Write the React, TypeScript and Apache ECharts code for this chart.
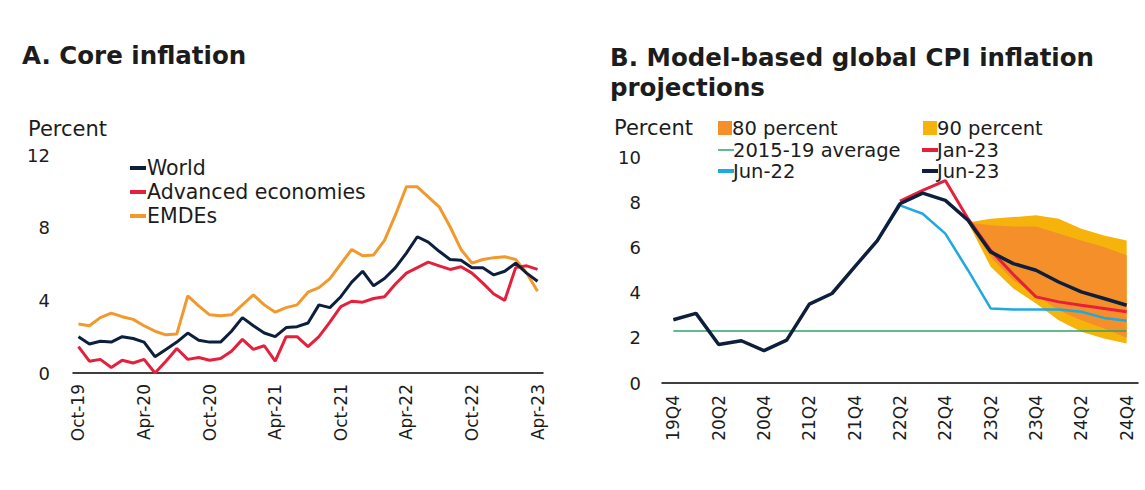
import React, { useEffect, useRef } from "react";
import * as echarts from "echarts";

// ---------- Panel A: Core inflation (monthly, Oct-19 .. Apr-23) ----------
const months = [
  "Oct-19", "Nov-19", "Dec-19", "Jan-20", "Feb-20", "Mar-20", "Apr-20", "May-20", "Jun-20", "Jul-20",
  "Aug-20", "Sep-20", "Oct-20", "Nov-20", "Dec-20", "Jan-21", "Feb-21", "Mar-21", "Apr-21", "May-21",
  "Jun-21", "Jul-21", "Aug-21", "Sep-21", "Oct-21", "Nov-21", "Dec-21", "Jan-22", "Feb-22", "Mar-22",
  "Apr-22", "May-22", "Jun-22", "Jul-22", "Aug-22", "Sep-22", "Oct-22", "Nov-22", "Dec-22", "Jan-23",
  "Feb-23", "Mar-23", "Apr-23",
];
const worldCore = [
  2.0, 1.6, 1.75, 1.7, 2.0, 1.9, 1.7, 0.9, 1.3, 1.7,
  2.2, 1.8, 1.7, 1.7, 2.3, 3.05, 2.6, 2.2, 2.0, 2.5,
  2.55, 2.75, 3.75, 3.6, 4.2, 5.0, 5.6, 4.8, 5.2, 5.8,
  6.6, 7.5, 7.2, 6.7, 6.25, 6.2, 5.8, 5.8, 5.4, 5.6,
  6.05, 5.5, 5.05,
];
const advancedCore = [
  1.45, 0.65, 0.75, 0.3, 0.7, 0.55, 0.75, 0.0, 0.65, 1.35,
  0.75, 0.85, 0.7, 0.8, 1.2, 1.85, 1.3, 1.5, 0.65, 2.0,
  2.0, 1.45, 2.0, 2.8, 3.65, 3.95, 3.9, 4.1, 4.2, 4.9,
  5.5, 5.8, 6.1, 5.9, 5.7, 5.85, 5.5, 4.95, 4.35, 4.0,
  5.8, 5.9, 5.7,
];
const emdeCore = [
  2.7, 2.6, 3.05, 3.3, 3.1, 2.95, 2.6, 2.3, 2.1, 2.15,
  4.25, 3.7, 3.2, 3.15, 3.2, 3.75, 4.3, 3.75, 3.35, 3.6,
  3.75, 4.45, 4.7, 5.2, 6.0, 6.8, 6.45, 6.5, 7.3, 8.7,
  10.25, 10.25, 9.7, 9.15, 8.05, 6.8, 6.05, 6.25, 6.35, 6.4,
  6.25, 5.5, 4.5,
];
const leftTicks = { min: 0, max: 12, interval: 4 };

// ---------- Panel B: Model-based global CPI projections (quarterly) ----------
const quarters = [
  "19Q4", "20Q1", "20Q2", "20Q3", "20Q4", "21Q1", "21Q2", "21Q3", "21Q4", "22Q1",
  "22Q2", "22Q3", "22Q4", "23Q1", "23Q2", "23Q3", "23Q4", "24Q1", "24Q2", "24Q3", "24Q4",
];
const jun23 = [2.8, 3.08, 1.7, 1.87, 1.43, 1.9, 3.49, 3.96, 5.14, 6.3, 7.93, 8.4, 8.08, 7.2, 5.8, 5.28, 4.99, 4.47, 4.03, 3.74, 3.44];
const jan23 = [null, null, null, null, null, null, null, null, null, null, 8.05, 8.52, 8.96, 7.27, 5.87, 4.8, 3.81, 3.59, 3.44, 3.3, 3.15];
const jun22 = [null, null, null, null, null, null, null, null, null, 6.3, 7.86, 7.49, 6.61, 4.99, 3.3, 3.25, 3.25, 3.25, 3.15, 2.88, 2.75];
const avg1519 = [2.3, 2.3, 2.3, 2.3, 2.3, 2.3, 2.3, 2.3, 2.3, 2.3, 2.3, 2.3, 2.3, 2.3, 2.3, 2.3, 2.3, 2.3, 2.3, 2.3, 2.3];
const lower90 = [null, null, null, null, null, null, null, null, null, null, null, null, null, 7.1, 5.14, 4.18, 3.52, 2.78, 2.27, 1.97, 1.75];
const upper90 = [null, null, null, null, null, null, null, null, null, null, null, null, null, 7.1, 7.27, 7.34, 7.42, 7.27, 6.83, 6.53, 6.31];
const lower80 = [null, null, null, null, null, null, null, null, null, null, null, null, null, 7.1, 5.58, 4.55, 3.89, 3.22, 2.78, 2.41, 2.0];
const upper80 = [null, null, null, null, null, null, null, null, null, null, null, null, null, 7.1, 6.98, 6.93, 6.93, 6.61, 6.31, 6.02, 5.65];
const rightTicks = { min: 0, max: 10, interval: 2 };

const NAVY = "#0d1f3c";
const RED = "#e5203c";
const ORANGE = "#f2992e";
const BAND80 = "#f48f2a";
const BAND90 = "#f5b30c";
const LIGHTBLUE = "#1fa9e1";
const GREEN = "#2ca56e";
const TXT = "#1c1c1c";
const FONT = "DejaVu Sans";

const diff = (hi: (number | null)[], lo: (number | null)[]) =>
  hi.map((v, i) => (v == null || lo[i] == null ? null : +(v - (lo[i] as number)).toFixed(3)));

export default function App() {
  const ref = useRef<HTMLDivElement>(null);
  useEffect(() => {
    if (!ref.current) return;
    const chart = echarts.init(ref.current, undefined, { renderer: "svg" });
    const xLabel = { rotate: 90, fontSize: 17, color: TXT, fontFamily: FONT };
    const yLabel = { fontSize: 18, color: TXT, fontFamily: FONT };
    const LEG = 19.5;
    const txt = (text: string, x: number, y: number, size: number, bold = false) => ({
      type: "text",
      x,
      y,
      style: { text, fill: TXT, fontSize: size, fontFamily: FONT, fontWeight: bold ? "bold" : "normal", verticalAlign: "middle", align: "left" },
    });
    const dash = (x: number, y: number, color: string, w = 4) => ({
      type: "line",
      shape: { x1: x, y1: y, x2: x + 16, y2: y },
      style: { stroke: color, lineWidth: w },
    });
    const sq = (x: number, y: number, color: string) => ({
      type: "rect",
      shape: { x, y: y - 7, width: 14, height: 14 },
      style: { fill: color },
    });

    chart.setOption({
      animation: false,
      textStyle: { fontFamily: FONT },
      grid: [
        { left: 73, top: 155, width: 470, height: 218 },
        { left: 662, top: 157, width: 476, height: 226 },
      ],
      xAxis: [
        {
          gridIndex: 0, type: "category", data: months, boundaryGap: true,
          axisLine: { lineStyle: { color: "#000", width: 1.5 } },
          axisTick: { show: false },
          axisLabel: { ...xLabel, interval: 5, margin: 11 },
        },
        {
          gridIndex: 1, type: "category", data: quarters, boundaryGap: true,
          axisLine: { lineStyle: { color: "#000", width: 1.5 } },
          axisTick: { show: false },
          axisLabel: { ...xLabel, interval: 1, margin: 12 },
        },
      ],
      yAxis: [
        {
          gridIndex: 0, type: "value", ...leftTicks,
          axisLine: { show: false }, axisTick: { show: false }, splitLine: { show: false },
          axisLabel: { ...yLabel, margin: 23 },
        },
        {
          gridIndex: 1, type: "value", ...rightTicks,
          axisLine: { show: false }, axisTick: { show: false }, splitLine: { show: false },
          axisLabel: { ...yLabel, margin: 21 },
        },
      ],
      series: [
        { name: "EMDEs", type: "line", xAxisIndex: 0, yAxisIndex: 0, data: emdeCore, symbol: "none", lineStyle: { color: ORANGE, width: 3 } },
        { name: "Advanced economies", type: "line", xAxisIndex: 0, yAxisIndex: 0, data: advancedCore, symbol: "none", lineStyle: { color: RED, width: 3 } },
        { name: "World", type: "line", xAxisIndex: 0, yAxisIndex: 0, data: worldCore, symbol: "none", lineStyle: { color: NAVY, width: 3 } },

        { name: "90 base", type: "line", xAxisIndex: 1, yAxisIndex: 1, data: lower90, stack: "b90", symbol: "none", lineStyle: { width: 0, opacity: 0 } },
        { name: "90 percent", type: "line", xAxisIndex: 1, yAxisIndex: 1, data: diff(upper90, lower90), stack: "b90", symbol: "none", lineStyle: { width: 0, opacity: 0 }, areaStyle: { color: BAND90, opacity: 1 } },
        { name: "80 base", type: "line", xAxisIndex: 1, yAxisIndex: 1, data: lower80, stack: "b80", symbol: "none", lineStyle: { width: 0, opacity: 0 } },
        { name: "80 percent", type: "line", xAxisIndex: 1, yAxisIndex: 1, data: diff(upper80, lower80), stack: "b80", symbol: "none", lineStyle: { width: 0, opacity: 0 }, areaStyle: { color: BAND80, opacity: 1 } },
        { name: "2015-19 average", type: "line", xAxisIndex: 1, yAxisIndex: 1, data: avg1519, symbol: "none", lineStyle: { color: GREEN, width: 1.5 } },
        { name: "Jun-22", type: "line", xAxisIndex: 1, yAxisIndex: 1, data: jun22, symbol: "none", lineStyle: { color: LIGHTBLUE, width: 2.5 } },
        { name: "Jan-23", type: "line", xAxisIndex: 1, yAxisIndex: 1, data: jan23, symbol: "none", lineStyle: { color: RED, width: 3 } },
        { name: "Jun-23", type: "line", xAxisIndex: 1, yAxisIndex: 1, data: jun23, symbol: "none", lineStyle: { color: NAVY, width: 3.5 } },
      ],
      graphic: [
        txt("A. Core inflation", 22, 55, 24.5, true),
        txt("Percent", 28, 129, 21),
        dash(130, 168, NAVY), txt("World", 147, 168, 20.5),
        dash(130, 192, RED), txt("Advanced economies", 147, 192, 20.5),
        dash(130, 216, ORANGE), txt("EMDEs", 147, 216, 20.5),

        txt("B. Model-based global CPI inflation", 610, 57, 24.5, true),
        txt("projections", 610, 87, 24.5, true),
        txt("Percent", 614, 128, 21),
        sq(718, 128, BAND80), txt("80 percent", 732, 128, LEG),
        sq(923, 128, BAND90), txt("90 percent", 937, 128, LEG),
        dash(718, 150, GREEN, 1.5), txt("2015-19 average", 733, 150, LEG),
        dash(922, 150, RED), txt("Jan-23", 937, 150, LEG),
        dash(718, 171, LIGHTBLUE), txt("Jun-22", 733, 171, LEG),
        dash(922, 171, NAVY), txt("Jun-23", 937, 171, LEG),
      ],
    });
    return () => chart.dispose();
  }, []);
  return <div ref={ref} style={{ position: "fixed", left: 0, top: 0, width: 1145, height: 490, background: "#fff" }} />;
}
